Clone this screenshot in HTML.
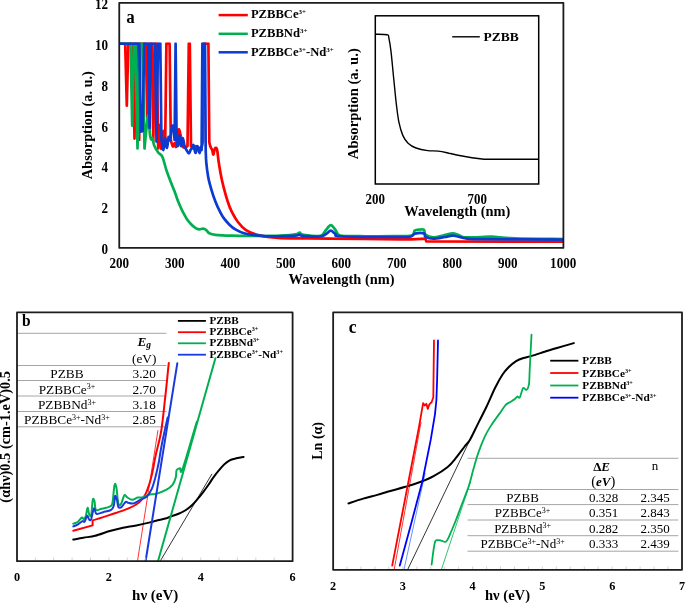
<!DOCTYPE html><html><head><meta charset="utf-8"><style>html,body{margin:0;padding:0;background:#fff;width:685px;height:603px;overflow:hidden}svg{display:block;filter:blur(0.35px)}text{font-family:"Liberation Serif",serif}</style></head><body>
<svg width="685" height="603" viewBox="0 0 685 603">
<rect width="685" height="603" fill="#fff"/>
<defs><clipPath id="ca"><rect x="119" y="42.2" width="445" height="206"/></clipPath></defs>
<g fill="none" stroke-linejoin="round" stroke-linecap="round" clip-path="url(#ca)">
<path d="M119.5,43.6 L125.2,43.6 L126.8,105.7 L128.3,43.6 L133.0,43.6 L134.5,138.6 L136.0,43.6 L138.0,43.6 L139.2,140.0 L140.4,43.6 L145.8,43.6 L147.2,117.0 L148.6,43.6 L151.8,43.6 L153.3,141.6 L154.8,43.6 L156.6,43.6 L158.2,148.5 C158.4,144.6 159.1,125.2 159.6,125.0 C160.1,124.8 160.6,143.5 161.0,147.0 C161.4,150.5 161.9,148.7 162.3,146.0 C162.7,143.3 163.0,131.7 163.5,131.0 C164.0,130.3 164.9,140.2 165.2,142.0 L166.4,43.6 L169.6,43.6 L170.8,140.0 C171.1,141.1 172.2,146.0 172.8,146.5 C173.4,147.0 173.9,143.0 174.5,143.0 C175.1,143.0 175.6,148.7 176.2,146.5 C176.8,144.3 177.6,132.1 178.3,130.0 C179.0,127.9 179.8,131.3 180.4,134.0 C181.1,136.7 181.4,143.8 182.2,146.0 C183.0,148.2 184.1,147.5 185.0,147.5 C185.9,147.5 187.1,146.2 187.5,146.0 L188.8,43.6 L189.8,43.6 L191.0,146.0 C191.4,146.4 192.7,148.5 193.5,148.5 C194.3,148.5 195.1,145.9 196.0,146.0 C196.9,146.1 198.0,148.8 199.0,149.0 C200.0,149.2 201.1,148.5 201.8,147.0 C202.5,145.5 202.8,141.2 203.0,140.0 L203.8,43.6 L208.4,43.6 L209.3,142.3 C209.5,143.0 209.8,145.0 210.3,146.3 C210.8,147.7 211.8,149.0 212.3,150.4 C212.8,151.8 213.0,154.8 213.4,154.5 C213.8,154.2 214.4,149.2 215.0,148.4 C215.6,147.6 216.4,147.4 217.0,149.4 C217.6,151.4 217.9,156.8 218.5,160.7 C219.1,164.6 219.7,168.5 220.5,172.9 C221.3,177.3 222.4,182.4 223.6,187.2 C224.8,192.0 226.3,197.4 227.7,201.5 C229.0,205.6 230.0,208.3 231.7,211.7 C233.4,215.1 235.5,218.9 237.9,222.0 C240.3,225.1 242.9,228.0 246.0,230.1 C249.1,232.2 251.9,233.4 256.3,234.6 C260.7,235.8 267.0,236.7 272.6,237.3 C278.2,237.9 280.4,238.1 290.0,238.3 C299.6,238.5 311.7,238.4 330.0,238.6 C348.3,238.8 384.1,239.3 400.0,239.3 C415.9,239.3 421.2,238.7 425.5,238.6 L426.3,241.5 L563.0,241.6" stroke="#ff0000" stroke-width="2.7"/>
<path d="M119.5,43.6 L130.5,43.6 L132.2,125.6 L133.8,43.6 L135.5,43.6 L137.5,148.5 L139.5,43.6 L142.6,43.6 L144.5,148.5 C144.8,145.1 145.9,133.5 146.5,128.0 C147.1,122.5 147.7,114.5 148.3,115.7 C148.9,116.9 149.5,131.0 150.0,135.0 C150.5,139.0 151.1,139.1 151.5,139.6 C151.9,140.1 152.1,137.1 152.5,138.0 C152.9,138.9 153.2,142.9 154.1,145.3 C155.0,147.7 156.8,150.6 158.2,152.5 C159.6,154.4 161.0,153.7 162.3,156.6 C163.7,159.5 165.0,165.8 166.3,169.9 C167.7,174.0 169.0,177.5 170.4,181.1 C171.8,184.7 173.1,187.7 174.5,191.3 C175.9,194.9 177.2,199.2 178.6,202.6 C180.0,206.0 181.3,209.0 182.7,211.7 C184.1,214.4 185.4,216.8 186.8,218.9 C188.2,221.0 189.5,222.5 190.9,224.0 C192.3,225.5 193.7,226.8 195.0,227.7 C196.3,228.6 197.7,229.1 199.0,229.3 C200.3,229.5 201.9,228.6 203.1,228.7 C204.3,228.8 205.2,229.3 206.2,230.1 C207.2,230.8 207.8,232.4 209.3,233.2 C210.8,234.0 211.7,234.4 215.4,234.8 C219.1,235.2 225.6,235.5 231.7,235.7 C237.8,235.9 245.4,235.9 252.2,235.9 C259.0,235.9 266.3,236.1 272.6,235.9 C278.9,235.8 285.9,235.3 290.0,235.0 C294.1,234.7 295.4,234.4 297.0,234.0 C298.6,233.6 298.8,232.5 299.7,232.6 C300.6,232.7 299.8,233.9 302.5,234.5 C305.2,235.1 312.8,235.8 316.0,236.0 C319.2,236.2 319.9,236.5 321.6,235.5 C323.3,234.5 324.5,231.7 326.0,230.0 C327.5,228.3 329.2,225.2 330.8,225.2 C332.4,225.2 333.9,228.3 335.5,230.0 C337.1,231.7 336.1,234.5 340.2,235.5 C344.3,236.5 350.9,236.1 360.0,236.2 C369.1,236.3 386.4,236.1 395.0,236.0 C403.6,235.9 408.2,236.4 411.5,235.5 C414.8,234.6 413.4,231.6 414.7,230.6 C416.0,229.6 417.8,229.7 419.3,229.6 C420.9,229.5 423.0,229.1 424.0,229.9 C425.0,230.7 423.9,233.2 425.5,234.5 C427.1,235.8 430.5,237.2 433.4,237.4 C436.3,237.6 439.7,236.2 443.0,235.5 C446.3,234.8 450.4,233.2 453.2,233.3 C456.0,233.4 457.9,235.1 460.0,235.8 C462.1,236.5 462.7,237.2 466.0,237.4 C469.3,237.6 475.7,237.3 480.0,237.2 C484.3,237.1 486.0,236.5 491.8,236.7 C497.6,236.9 503.1,238.0 515.0,238.4 C526.9,238.8 555.0,238.9 563.0,239.0" stroke="#00b050" stroke-width="2.7"/>
<path d="M119.5,43.6 L139.3,43.6 L140.8,131.6 L142.6,131.0 L144.2,43.6 L148.3,43.6 L149.6,128.0 L150.9,43.6 L155.0,43.6 L156.5,141.6 L158.0,43.6 L160.3,43.6 L161.4,139.4 C161.8,141.2 162.9,150.2 163.5,150.0 C164.1,149.8 164.4,138.3 165.0,138.0 C165.6,137.7 166.4,148.2 167.0,148.0 C167.6,147.8 168.1,138.3 168.6,137.0 C169.1,135.7 169.6,141.8 170.2,140.0 C170.8,138.2 171.3,128.5 171.9,126.5 C172.5,124.5 173.1,125.8 173.5,128.0 C173.9,130.2 174.4,138.0 174.6,140.0 L175.6,43.6 L176.6,140.0 C176.8,141.0 177.3,146.8 177.8,146.0 C178.3,145.2 178.9,135.0 179.4,135.0 C179.9,135.0 180.4,145.5 181.0,146.0 C181.6,146.5 182.2,138.0 182.8,138.0 C183.4,138.0 183.9,144.0 184.5,146.0 C185.1,148.0 185.8,148.8 186.5,150.0 C187.2,151.2 188.3,153.5 189.0,153.5 C189.7,153.5 190.0,150.9 190.5,150.0 C191.0,149.1 191.5,148.8 192.0,148.0 C192.5,147.2 192.9,144.2 193.5,145.0 C194.1,145.8 194.8,152.8 195.5,153.0 C196.2,153.2 196.8,146.0 197.5,146.0 C198.2,146.0 199.0,152.8 199.5,153.0 C200.0,153.2 200.3,147.5 200.7,147.0 C201.0,146.5 201.4,149.5 201.6,150.0 L202.4,43.6 L205.0,43.6 L205.7,150.4 C205.8,152.4 205.9,158.3 206.3,162.7 C206.7,167.1 207.4,172.6 208.2,177.0 C209.0,181.4 210.1,185.2 211.3,189.3 C212.5,193.4 214.0,197.9 215.4,201.5 C216.8,205.1 218.1,208.0 219.5,210.7 C220.9,213.4 221.9,215.5 223.6,217.9 C225.3,220.3 227.7,223.0 229.7,225.0 C231.7,227.0 233.4,228.3 235.8,229.7 C238.2,231.1 240.6,232.3 244.0,233.2 C247.4,234.1 251.5,234.8 256.3,235.3 C261.1,235.8 267.0,236.2 272.6,236.3 C278.2,236.4 285.9,235.9 290.0,235.8 C294.1,235.7 295.4,235.7 297.0,235.5 C298.6,235.3 298.8,234.4 299.7,234.5 C300.6,234.6 299.1,235.5 302.5,235.8 C305.9,236.1 316.1,236.8 320.0,236.5 C323.9,236.2 324.2,235.0 326.0,234.0 C327.8,233.0 329.2,230.7 330.8,230.7 C332.4,230.7 333.6,233.0 335.5,234.0 C337.4,235.0 331.2,236.0 342.0,236.5 C352.8,237.0 388.5,237.0 400.0,237.0 C411.5,237.0 408.5,237.1 411.0,236.5 C413.5,235.9 412.8,234.1 415.0,233.6 C417.2,233.1 422.2,232.8 424.0,233.4 C425.8,234.0 423.9,236.0 425.5,236.9 C427.1,237.8 430.1,238.7 433.4,238.7 C436.6,238.7 441.7,237.5 445.0,237.0 C448.3,236.5 449.7,235.5 453.2,235.7 C456.7,235.9 461.5,237.8 466.0,238.4 C470.5,239.0 463.8,239.0 480.0,239.2 C496.2,239.4 549.2,239.5 563.0,239.6" stroke="#0b3bd0" stroke-width="2.7"/>
</g>
<rect x="119.25" y="2.8" width="444.15" height="245.1" fill="none" stroke="#1c1c1c" stroke-width="1.8" stroke-linejoin="round"/>
<rect x="375.3" y="15.8" width="163.4" height="168.2" fill="none" stroke="#000" stroke-width="1.5"/>
<path d="M375.3,34.2 C377.3,34.3 384.8,34.1 387.1,34.7 C389.4,35.4 388.2,35.3 388.9,38.1 C389.5,40.9 390.2,44.7 391.0,51.3 C391.8,57.9 392.7,68.8 393.6,77.5 C394.5,86.2 395.4,96.3 396.3,103.8 C397.2,111.2 397.8,116.9 398.9,122.2 C400.0,127.5 401.3,131.9 402.8,135.4 C404.3,138.9 405.9,141.1 408.1,143.2 C410.3,145.3 412.7,146.8 416.0,148.0 C419.3,149.2 424.1,150.1 427.8,150.6 C431.5,151.1 434.8,150.7 438.3,151.1 C441.8,151.5 445.7,152.5 448.8,153.2 C451.9,153.8 452.8,154.2 456.7,155.0 C460.6,155.8 467.4,157.1 472.0,157.8 C476.6,158.5 481.5,159.0 484.0,159.2 C486.5,159.4 478.0,159.2 487.0,159.2 C496.0,159.2 529.7,159.2 538.2,159.2" fill="none" stroke="#000" stroke-width="1.4"/>
<line x1="452.2" y1="36.8" x2="479.8" y2="36.8" stroke="#000" stroke-width="1.4"/>
<text x="483.5" y="41.3" font-size="13.5" font-weight="bold">PZBB</text>
<text transform="translate(375.3,204) scale(0.98,1.03)" font-size="13.2" font-weight="bold" text-anchor="middle">200</text>
<text transform="translate(477.2,204) scale(0.98,1.03)" font-size="13.2" font-weight="bold" text-anchor="middle">700</text>
<text transform="translate(457.3,216) scale(1,1.07)" font-size="14.4" font-weight="bold" text-anchor="middle">Wavelength (nm)</text>
<text transform="translate(358.3,103.7) rotate(-90)" font-size="14.7" font-weight="bold" text-anchor="middle">Absorption (a. u.)</text>
<line x1="218.6" y1="15.1" x2="247.8" y2="15.1" stroke="#ff0000" stroke-width="2.5"/>
<line x1="218.6" y1="33.8" x2="247.8" y2="33.8" stroke="#00b050" stroke-width="2.5"/>
<line x1="218.6" y1="52.3" x2="247.8" y2="52.3" stroke="#0b3bd0" stroke-width="2.5"/>
<g font-size="12.6" font-weight="bold">
<text x="250.9" y="18.3">PZBBCe<tspan font-size="7" dy="-4.3">3+</tspan></text>
<text x="250.9" y="37">PZBBNd<tspan font-size="7" dy="-4.3">3+</tspan></text>
<text x="250.9" y="56.2">PZBBCe<tspan font-size="7" dy="-4.3">3+</tspan><tspan dy="4.3">-Nd</tspan><tspan font-size="7" dy="-4.3">3+</tspan></text>
</g>
<text transform="translate(126.3,23.4) scale(0.97,1.05)" font-size="17.5" font-weight="bold">a</text>
<g font-size="13.5" font-weight="bold" text-anchor="end">
<text transform="translate(108,254.0) scale(0.97,1.13)">0</text>
<text transform="translate(108,213.2) scale(0.97,1.13)">2</text>
<text transform="translate(108,172.4) scale(0.97,1.13)">4</text>
<text transform="translate(108,131.6) scale(0.97,1.13)">6</text>
<text transform="translate(108,90.8) scale(0.97,1.13)">8</text>
<text transform="translate(108,50.0) scale(0.97,1.13)">10</text>
<text transform="translate(108,9.2) scale(0.97,1.13)">12</text>
</g>
<g font-size="13.5" font-weight="bold" text-anchor="middle">
<text transform="translate(119.2,268) scale(0.97,1.13)">200</text>
<text transform="translate(174.7,268) scale(0.97,1.13)">300</text>
<text transform="translate(230.2,268) scale(0.97,1.13)">400</text>
<text transform="translate(285.7,268) scale(0.97,1.13)">500</text>
<text transform="translate(341.2,268) scale(0.97,1.13)">600</text>
<text transform="translate(396.7,268) scale(0.97,1.13)">700</text>
<text transform="translate(452.2,268) scale(0.97,1.13)">800</text>
<text transform="translate(507.7,268) scale(0.97,1.13)">900</text>
<text transform="translate(563.2,268) scale(0.97,1.13)">1000</text>
</g>
<text transform="translate(341.5,284) scale(1,1.07)" font-size="14.4" font-weight="bold" text-anchor="middle">Wavelength (nm)</text>
<text transform="translate(92,125.15) rotate(-90) scale(1,1.07)" font-size="14.3" font-weight="bold" text-anchor="middle">Absorption (a. u.)</text>
<g stroke="#a6a6a6" stroke-width="1">
<line x1="17" y1="333.3" x2="166.5" y2="333.3"/>
<line x1="17" y1="365.5" x2="166.5" y2="365.5"/>
<line x1="17" y1="380.5" x2="166.5" y2="380.5"/>
<line x1="17" y1="396" x2="166.5" y2="396"/>
<line x1="17" y1="411.5" x2="166.5" y2="411.5"/>
<line x1="17" y1="426.8" x2="166.5" y2="426.8"/>
</g>
<g fill="none" stroke-linejoin="round" stroke-linecap="round">
<line x1="137.6" y1="560.5" x2="157.9" y2="430.6" stroke="#ff0000" stroke-width="0.8"/>
<line x1="160.6" y1="560.5" x2="211.8" y2="474.2" stroke="#000" stroke-width="0.8"/>
<path d="M73.3,539.6 C75.0,539.3 79.8,538.4 83.4,537.8 C87.1,537.1 90.8,536.8 95.2,535.7 C99.6,534.6 105.2,532.3 109.8,531.0 C114.4,529.7 118.7,528.6 123.1,527.7 C127.5,526.8 131.8,526.3 136.3,525.4 C140.8,524.5 146.7,523.2 150.0,522.4 C153.3,521.6 153.3,521.5 156.1,520.8 C158.8,520.1 164.2,519.0 166.5,518.3 C168.8,517.6 168.1,517.3 170.0,516.6 C171.9,515.9 175.3,515.1 178.0,514.0 C180.7,512.9 183.5,511.6 185.9,510.0 C188.3,508.4 190.5,506.6 192.5,504.7 C194.5,502.8 196.1,500.8 197.9,498.7 C199.7,496.6 201.4,494.4 203.2,492.1 C205.0,489.8 206.7,487.4 208.5,484.8 C210.3,482.2 212.0,479.2 213.8,476.8 C215.6,474.4 217.3,472.3 219.1,470.2 C220.9,468.1 222.6,465.8 224.4,464.2 C226.2,462.6 227.7,461.3 229.7,460.3 C231.7,459.3 234.0,458.9 236.3,458.3 C238.6,457.7 242.4,457.1 243.6,456.9" stroke="#000" stroke-width="2"/>
<path d="M73.3,530.7 L92.6,525.4 L92.6,520.4 C94.4,519.9 99.2,518.4 103.2,517.1 C107.2,515.8 112.0,514.3 116.4,512.8 C120.8,511.2 126.4,509.2 129.7,507.8 C133.0,506.4 134.3,505.8 136.3,504.5 C138.3,503.2 140.1,501.6 141.6,499.8 C143.1,498.0 144.3,496.6 145.6,493.9 C146.9,491.1 148.5,486.6 149.6,483.3 C150.7,480.0 150.9,478.8 152.0,474.0 C153.1,469.2 154.3,461.6 155.9,454.3 C157.5,447.1 159.7,440.4 161.3,430.5 C162.9,420.6 164.2,406.0 165.5,394.7 C166.8,383.4 168.2,368.2 168.8,362.9" stroke="#ff0000" stroke-width="2"/>
<path d="M73.3,523.7 C74.1,523.4 76.6,522.7 78.0,521.7 C79.4,520.7 80.9,517.9 81.9,517.5 C82.9,517.1 83.2,519.4 83.9,519.1 C84.6,518.8 85.3,517.7 85.9,515.8 C86.5,513.9 87.0,508.0 87.6,507.8 C88.1,507.6 88.6,513.2 89.2,514.4 C89.8,515.6 90.6,517.5 91.2,515.1 C91.8,512.7 92.2,502.1 92.8,499.8 C93.3,497.5 94.0,499.5 94.5,501.2 C95.0,502.9 94.9,508.5 95.9,509.8 C96.9,511.1 99.3,509.3 100.5,509.1 C101.7,508.9 101.7,508.9 103.2,508.5 C104.8,508.1 108.3,507.4 109.8,506.5 C111.3,505.6 111.6,506.7 112.4,503.2 C113.2,499.7 113.8,488.0 114.5,485.3 C115.2,482.6 115.6,483.9 116.3,487.0 C117.0,490.1 117.6,501.0 118.4,503.8 C119.2,506.6 120.1,505.2 121.1,503.8 C122.1,502.4 123.4,496.3 124.4,495.2 C125.4,494.1 125.7,496.4 127.0,497.2 C128.3,498.0 130.5,499.7 132.3,499.8 C134.1,499.9 135.8,498.0 137.6,497.6 C139.4,497.2 141.0,497.7 143.0,497.2 C145.0,496.7 147.4,495.1 149.6,494.5 C151.8,493.9 153.3,494.7 156.1,493.9 C158.9,493.1 163.7,491.2 166.5,489.7 C169.3,488.1 171.1,486.7 172.7,484.6 C174.2,482.5 175.2,479.7 175.8,477.3 C176.5,474.9 175.9,471.7 176.6,470.2 C177.3,468.7 179.0,468.4 180.0,468.2 C181.0,468.0 179.8,476.6 182.6,468.9 C185.4,461.2 194.4,429.6 196.8,421.8" stroke="#00b050" stroke-width="2"/>
<path d="M73.3,526.4 C74.1,526.1 76.5,525.3 78.0,524.4 C79.5,523.5 81.5,521.5 82.6,521.1 C83.7,520.7 83.8,522.6 84.6,521.7 C85.4,520.8 86.4,516.1 87.2,515.8 C88.0,515.5 88.5,519.2 89.2,519.7 C89.9,520.2 90.4,521.0 91.2,519.1 C92.0,517.2 93.0,509.4 93.9,508.5 C94.8,507.6 95.0,513.2 96.5,513.8 C98.0,514.4 100.8,512.9 103.2,512.2 C105.6,511.5 109.3,510.9 111.1,509.8 C112.9,508.7 113.1,508.1 113.8,505.8 C114.5,503.5 114.5,496.8 115.1,495.9 C115.6,495.0 116.5,498.6 117.1,500.5 C117.6,502.4 117.6,506.0 118.4,507.1 C119.2,508.2 120.5,507.8 121.7,506.9 C122.9,506.0 124.6,502.5 125.7,501.8 C126.8,501.1 127.1,502.6 128.4,502.9 C129.7,503.2 131.7,503.9 133.7,503.4 C135.7,502.9 138.1,500.9 140.3,499.8 C142.5,498.7 145.0,498.4 146.9,496.5 C148.8,494.6 150.5,491.8 151.9,488.7 C153.3,485.6 154.2,481.4 155.2,478.0 C156.1,474.6 156.9,471.0 157.6,468.0 C158.3,465.0 158.7,463.0 159.2,460.0 C159.7,457.0 160.2,453.3 160.8,450.0 C161.4,446.7 161.6,445.4 162.7,440.0 C163.8,434.6 166.8,421.3 167.6,417.6" stroke="#1a3ae0" stroke-width="2"/>
<line x1="158.2" y1="560.5" x2="215.4" y2="358.3" stroke="#00b050" stroke-width="2"/>
<line x1="145.7" y1="560.5" x2="177.3" y2="363.3" stroke="#1a3ae0" stroke-width="2"/>
</g>
<g stroke="#c8c8c8" stroke-width="0.8">
<line x1="17.0" y1="557.5" x2="17.0" y2="560.5"/>
<line x1="35.4" y1="557.5" x2="35.4" y2="560.5"/>
<line x1="53.7" y1="557.5" x2="53.7" y2="560.5"/>
<line x1="72.1" y1="557.5" x2="72.1" y2="560.5"/>
<line x1="90.5" y1="557.5" x2="90.5" y2="560.5"/>
<line x1="108.9" y1="557.5" x2="108.9" y2="560.5"/>
<line x1="127.2" y1="557.5" x2="127.2" y2="560.5"/>
<line x1="145.6" y1="557.5" x2="145.6" y2="560.5"/>
<line x1="164.0" y1="557.5" x2="164.0" y2="560.5"/>
<line x1="182.3" y1="557.5" x2="182.3" y2="560.5"/>
<line x1="200.7" y1="557.5" x2="200.7" y2="560.5"/>
<line x1="219.1" y1="557.5" x2="219.1" y2="560.5"/>
<line x1="237.4" y1="557.5" x2="237.4" y2="560.5"/>
<line x1="255.8" y1="557.5" x2="255.8" y2="560.5"/>
<line x1="274.2" y1="557.5" x2="274.2" y2="560.5"/>
</g>
<rect x="17" y="312.4" width="275.6" height="248.8" fill="none" stroke="#1c1c1c" stroke-width="1.8" stroke-linejoin="round"/>
<text transform="translate(22,325.6) scale(1,1.1)" font-size="15.5" font-weight="bold">b</text>
<g font-size="13.3" text-anchor="middle">
<text x="144.2" y="345.8" font-weight="bold" font-style="italic">E<tspan font-size="9.5" dy="2">g</tspan></text>
<text x="144.2" y="363">(eV)</text>
<text x="66.9" y="378.2">PZBB</text>
<text x="144.2" y="378.2">3.20</text>
<text x="66.9" y="393.6">PZBBCe<tspan font-size='8' dy='-4.3'>3+</tspan></text>
<text x="144.2" y="393.6">2.70</text>
<text x="66.9" y="408.9">PZBBNd<tspan font-size='8' dy='-4.3'>3+</tspan></text>
<text x="144.2" y="408.9">3.18</text>
<text x="66.9" y="424.2">PZBBCe<tspan font-size='8' dy='-4.3'>3+</tspan><tspan dy='4.3'>-Nd</tspan><tspan font-size='8' dy='-4.3'>3+</tspan></text>
<text x="144.2" y="424.2">2.85</text>
</g>
<line x1="177.9" y1="320.9" x2="205.9" y2="320.9" stroke="#000" stroke-width="1.8"/>
<line x1="177.9" y1="332.2" x2="205.9" y2="332.2" stroke="#ff0000" stroke-width="1.8"/>
<line x1="177.9" y1="343.3" x2="205.9" y2="343.3" stroke="#00b050" stroke-width="1.8"/>
<line x1="177.9" y1="354.7" x2="205.9" y2="354.7" stroke="#1a3ae0" stroke-width="1.8"/>
<g font-size="11.2" font-weight="bold">
<text x="209.4" y="323.7">PZBB</text>
<text x="209.4" y="335">PZBBCe<tspan font-size="6.2" dy="-3.7">3+</tspan></text>
<text x="209.4" y="346.1">PZBBNd<tspan font-size="6.2" dy="-3.7">3+</tspan></text>
<text x="209.4" y="357.5">PZBBCe<tspan font-size="6.2" dy="-3.7">3+</tspan><tspan dy="3.7">-Nd</tspan><tspan font-size="6.2" dy="-3.7">3+</tspan></text>
</g>
<g font-size="12.5" font-weight="bold" text-anchor="middle">
<text transform="translate(17.0,581.2) scale(0.98,1.05)">0</text>
<text transform="translate(108.9,581.2) scale(0.98,1.05)">2</text>
<text transform="translate(200.7,581.2) scale(0.98,1.05)">4</text>
<text transform="translate(292.6,581.2) scale(0.98,1.05)">6</text>
</g>
<text x="155.2" y="599.5" font-size="15" font-weight="bold" text-anchor="middle">hν (eV)</text>
<text transform="translate(10.2,436.8) rotate(-90)" font-size="14.36" font-weight="bold" text-anchor="middle">(αhν)0.5 (cm-1.eV)0.5</text>
<g stroke="#a6a6a6" stroke-width="1">
<line x1="467.5" y1="458.3" x2="678.4" y2="458.3"/>
<line x1="467.5" y1="489.5" x2="678.4" y2="489.5"/>
<line x1="467.5" y1="504.6" x2="678.4" y2="504.6"/>
<line x1="467.5" y1="520" x2="678.4" y2="520"/>
<line x1="467.5" y1="535.7" x2="678.4" y2="535.7"/>
<line x1="467.5" y1="551.2" x2="678.4" y2="551.2"/>
</g>
<g fill="none" stroke-linejoin="round" stroke-linecap="round">
<line x1="407.7" y1="569.5" x2="470.2" y2="439.4" stroke="#000" stroke-width="0.8"/>
<line x1="394.2" y1="569.5" x2="421" y2="422.5" stroke="#ff0000" stroke-width="0.8"/>
<line x1="404" y1="569.5" x2="425.1" y2="473.2" stroke="#3a7aff" stroke-width="0.8"/>
<line x1="441.4" y1="569.5" x2="470.5" y2="482" stroke="#00b050" stroke-width="0.8"/>
<path d="M348.5,503.4 C350.9,502.6 358.4,500.0 363.2,498.6 C368.0,497.2 372.6,496.2 377.3,494.9 C382.0,493.6 386.6,492.0 391.3,490.7 C396.0,489.4 400.7,488.2 405.4,486.8 C410.1,485.4 414.8,484.1 419.5,482.3 C424.2,480.5 428.9,478.7 433.6,476.1 C438.3,473.6 443.9,470.1 447.7,467.0 C451.4,463.9 453.3,461.1 456.1,457.7 C458.9,454.3 462.3,449.5 464.6,446.5 C466.9,443.5 467.7,443.6 470.0,439.7 C472.3,435.8 475.5,428.6 478.3,423.1 C481.1,417.6 483.8,412.3 486.6,406.5 C489.4,400.7 492.3,393.5 494.9,388.2 C497.5,382.9 500.1,378.2 502.4,374.7 C504.7,371.2 506.3,369.6 508.6,367.3 C510.9,365.0 513.6,362.7 516.1,361.1 C518.6,359.6 521.0,358.8 523.5,358.0 C526.0,357.2 527.5,357.2 531.0,356.1 C534.5,355.1 540.3,353.1 544.6,351.7 C548.9,350.3 552.1,349.4 557.0,348.0 C561.9,346.6 571.0,343.9 573.8,343.1" stroke="#000" stroke-width="2"/>
<path d="M392.2,565.6 L418.9,427.5 L421.3,413.6 L423.1,403.1 L424.7,405.5 L426.4,403.8 L427.8,408.9 L429.4,404.3 L431.7,402.0 L433.3,397.3 L434.0,340.4" stroke="#ff0000" stroke-width="1.8"/>
<path d="M399.8,565.6 L411.1,523.9 L422.3,481.7 L430.8,439.4 L435.0,414.1 L436.4,400.0 L437.1,380.0 L438.0,340.4" stroke="#0000ff" stroke-width="1.8"/>
<path d="M431.6,564.7 C432.1,561.1 433.7,546.9 434.8,542.8 C435.9,538.7 437.0,540.6 438.1,540.2 C439.2,539.9 440.1,540.4 441.4,540.7 C442.7,541.0 444.5,542.5 445.8,541.8 C447.1,541.1 447.5,539.8 449.1,536.3 C450.7,532.8 453.4,526.5 455.6,521.0 C457.8,515.5 460.0,509.3 462.2,503.5 C464.4,497.7 466.9,491.7 468.8,486.0 C470.7,480.3 471.7,475.0 473.3,469.5 C474.9,464.0 476.4,458.4 478.3,452.9 C480.2,447.4 482.7,441.0 484.9,436.3 C487.1,431.6 489.1,428.6 491.6,424.7 C494.1,420.8 497.5,416.4 499.9,413.1 C502.2,409.8 504.0,406.6 505.7,404.8 C507.4,403.0 508.3,403.3 509.8,402.3 C511.3,401.3 513.5,400.0 514.8,399.0 C516.0,398.0 516.5,396.8 517.3,396.5 C518.1,396.2 518.8,398.8 519.8,397.4 C520.8,396.0 522.0,389.4 523.1,388.2 C524.2,386.9 525.4,390.4 526.4,389.9 C527.4,389.3 528.3,388.2 528.9,384.9 C529.5,381.6 529.3,378.4 529.7,370.0 C530.1,361.6 531.2,340.5 531.5,334.6" stroke="#00b050" stroke-width="1.8"/>
</g>
<g stroke="#c8c8c8" stroke-width="0.8">
<line x1="333.0" y1="566.5" x2="333.0" y2="569.5"/>
<line x1="347.0" y1="566.5" x2="347.0" y2="569.5"/>
<line x1="360.9" y1="566.5" x2="360.9" y2="569.5"/>
<line x1="374.9" y1="566.5" x2="374.9" y2="569.5"/>
<line x1="388.8" y1="566.5" x2="388.8" y2="569.5"/>
<line x1="402.8" y1="566.5" x2="402.8" y2="569.5"/>
<line x1="416.8" y1="566.5" x2="416.8" y2="569.5"/>
<line x1="430.7" y1="566.5" x2="430.7" y2="569.5"/>
<line x1="444.7" y1="566.5" x2="444.7" y2="569.5"/>
<line x1="458.6" y1="566.5" x2="458.6" y2="569.5"/>
<line x1="472.6" y1="566.5" x2="472.6" y2="569.5"/>
<line x1="486.6" y1="566.5" x2="486.6" y2="569.5"/>
<line x1="500.5" y1="566.5" x2="500.5" y2="569.5"/>
<line x1="514.5" y1="566.5" x2="514.5" y2="569.5"/>
<line x1="528.4" y1="566.5" x2="528.4" y2="569.5"/>
<line x1="542.4" y1="566.5" x2="542.4" y2="569.5"/>
<line x1="556.4" y1="566.5" x2="556.4" y2="569.5"/>
<line x1="570.3" y1="566.5" x2="570.3" y2="569.5"/>
<line x1="584.3" y1="566.5" x2="584.3" y2="569.5"/>
<line x1="598.2" y1="566.5" x2="598.2" y2="569.5"/>
<line x1="612.2" y1="566.5" x2="612.2" y2="569.5"/>
<line x1="626.2" y1="566.5" x2="626.2" y2="569.5"/>
<line x1="640.1" y1="566.5" x2="640.1" y2="569.5"/>
<line x1="654.1" y1="566.5" x2="654.1" y2="569.5"/>
<line x1="668.0" y1="566.5" x2="668.0" y2="569.5"/>
</g>
<rect x="333.15" y="312.4" width="348.85" height="257.4" fill="none" stroke="#1c1c1c" stroke-width="1.8" stroke-linejoin="round"/>
<text transform="translate(348.7,333) scale(1,1.08)" font-size="17.5" font-weight="bold">c</text>
<line x1="550.2" y1="360.7" x2="578.4" y2="360.7" stroke="#000" stroke-width="1.8"/>
<line x1="550.2" y1="373" x2="578.4" y2="373" stroke="#ff0000" stroke-width="1.8"/>
<line x1="550.2" y1="385.5" x2="578.4" y2="385.5" stroke="#00b050" stroke-width="1.8"/>
<line x1="550.2" y1="397.7" x2="578.4" y2="397.7" stroke="#0000ff" stroke-width="1.8"/>
<g font-size="11.3" font-weight="bold">
<text x="582.3" y="364.2">PZBB</text>
<text x="582.3" y="376.5">PZBBCe<tspan font-size="6.2" dy="-3.7">3+</tspan></text>
<text x="582.3" y="389">PZBBNd<tspan font-size="6.2" dy="-3.7">3+</tspan></text>
<text x="582.3" y="401.2">PZBBCe<tspan font-size="6.2" dy="-3.7">3+</tspan><tspan dy="3.7">-Nd</tspan><tspan font-size="6.2" dy="-3.7">3+</tspan></text>
</g>
<g font-size="13" text-anchor="middle">
<text x="601.6" y="470.8" font-weight="bold"><tspan>Δ</tspan><tspan font-style="italic">E</tspan></text>
<text x="603.3" y="486.3"><tspan font-size="14.5">(</tspan><tspan font-weight="bold" font-style="italic">eV</tspan><tspan font-size="14.5">)</tspan></text>
<text x="655" y="470">n</text>
<text x="522.6" y="501.5">PZBB</text>
<text x="603.5" y="501.5">0.328</text>
<text x="655" y="501.5">2.345</text>
<text x="522.6" y="517.0">PZBBCe<tspan font-size='8' dy='-4.3'>3+</tspan></text>
<text x="603.5" y="517.0">0.351</text>
<text x="655" y="517.0">2.843</text>
<text x="522.6" y="532.5">PZBBNd<tspan font-size='8' dy='-4.3'>3+</tspan></text>
<text x="603.5" y="532.5">0.282</text>
<text x="655" y="532.5">2.350</text>
<text x="522.6" y="548.0">PZBBCe<tspan font-size='8' dy='-4.3'>3+</tspan><tspan dy='4.3'>-Nd</tspan><tspan font-size='8' dy='-4.3'>3+</tspan></text>
<text x="603.5" y="548.0">0.333</text>
<text x="655" y="548.0">2.439</text>
</g>
<g font-size="12.5" font-weight="bold" text-anchor="middle">
<text transform="translate(333.0,589.7) scale(0.98,1.05)">2</text>
<text transform="translate(402.8,589.7) scale(0.98,1.05)">3</text>
<text transform="translate(472.6,589.7) scale(0.98,1.05)">4</text>
<text transform="translate(542.4,589.7) scale(0.98,1.05)">5</text>
<text transform="translate(612.2,589.7) scale(0.98,1.05)">6</text>
<text transform="translate(682.0,589.7) scale(0.98,1.05)">7</text>
</g>
<text x="507.5" y="599.8" font-size="14.6" font-weight="bold" text-anchor="middle">hν (eV)</text>
<text transform="translate(322.3,440.85) rotate(-90) scale(1,1.08)" font-size="14.0" font-weight="bold" text-anchor="middle">Ln (α)</text>
</svg></body></html>
